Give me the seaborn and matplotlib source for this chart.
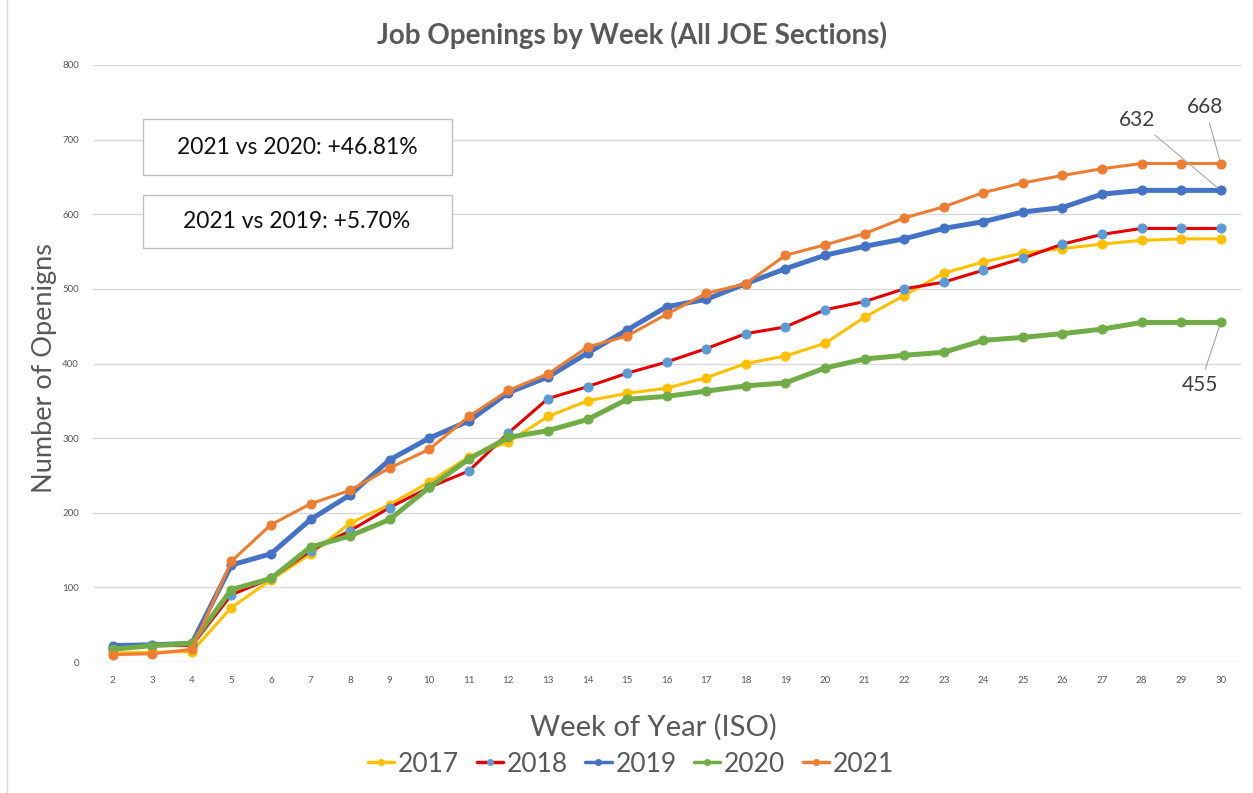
import matplotlib

matplotlib.use("Agg")
import matplotlib.pyplot as plt
import numpy as np
import pandas as pd
import seaborn as sns
from matplotlib.lines import Line2D
from matplotlib.patches import Rectangle

weeks = list(range(2, 31))

y2017 = [12, 13, 14, 73, 110, 145, 186, 211, 241, 275, 295, 329, 350, 360, 367,
         381, 400, 410, 427, 462, 491, 521, 536, 548, 554, 560, 565, 567, 567]
y2018 = [18, 22, 22, 90, 112, 149, 176, 207, 234, 256, 307, 353, 369, 387, 402,
         420, 440, 449, 472, 483, 500, 509, 525, 541, 560, 573, 581, 581, 581]
y2019 = [22, 23, 25, 130, 145, 191, 224, 271, 300, 323, 361, 382, 414, 445, 476,
         486, 507, 527, 545, 557, 567, 581, 590, 603, 609, 627, 632, 632, 632]
y2020 = [17, 22, 25, 97, 112, 154, 169, 191, 234, 272, 301, 310, 325, 352, 356,
         363, 370, 374, 394, 406, 411, 415, 431, 435, 440, 446, 455, 455, 455]
y2021 = [10, 11, 17, 135, 184, 212, 230, 260, 285, 329, 364, 386, 422, 437, 466,
         494, 507, 545, 559, 574, 595, 610, 629, 642, 652, 661, 668, 668, 668]

years = ["2017", "2018", "2019", "2020", "2021"]
series = [y2017, y2018, y2019, y2020, y2021]
line_colors = ["#FFC000", "#E60000", "#4472C4", "#70AD47", "#ED7D31"]
marker_colors = ["#FFC000", "#5B9BD5", "#4472C4", "#70AD47", "#ED7D31"]
line_widths = [2.2, 2.2, 3.6, 3.6, 2.2]

comparisons = ["2021 vs 2020: +46.81%", "2021 vs 2019: +5.70%"]

df = pd.DataFrame(
    {"week": weeks * len(years),
     "year": np.repeat(years, len(weeks)),
     "openings": sum(series, [])}
)

sns.set_theme(style="white")
plt.rcParams["font.family"] = ["Lato", "DejaVu Sans"]

W, H = 1253, 793
fig = plt.figure(figsize=(W / 100, H / 100), dpi=100)
ax = fig.add_axes([92.9 / W, 1 - 662 / H, (1240.5 - 92.9) / W, (662 - 65) / H])

grey = "#595959"
for yr, lc, mc, lw in zip(years, line_colors, marker_colors, line_widths):
    sub = df[df["year"] == yr]
    sns.lineplot(data=sub, x="week", y="openings", ax=ax, color=lc, lw=lw,
                 marker="o", markersize=6.5, markerfacecolor=mc,
                 markeredgecolor=mc, zorder=3, legend=False)

ax.set_xlim(1.5, 30.5)
ax.set_ylim(0, 800)
ax.set_xticks(weeks)
ax.set_yticks(range(0, 801, 100))
ax.tick_params(axis="both", labelsize=7, colors=grey, length=0, pad=10)
ax.grid(axis="y", color="#D9D9D9", lw=1)
ax.set_axisbelow(True)
for s in ax.spines.values():
    s.set_visible(False)
ax.set_xlabel("")
ax.set_ylabel("")

fig.text(653 / W, 1 - 727 / H, "Week of Year (ISO)", ha="center", va="center",
         fontsize=21, color=grey)
fig.text(45 / W, 1 - 368 / H, "Number of Openigns", ha="center", va="center",
         rotation=90, fontsize=19.5, color=grey)
fig.text(632 / W, 1 - 35 / H, "Job Openings by Week (All JOE Sections)",
         ha="center", va="center", fontsize=20, fontweight="bold", color=grey)

# comparison boxes
for txt, (top, bottom) in zip(comparisons, [(119, 175), (195, 248)]):
    fig.patches.append(Rectangle((143 / W, 1 - bottom / H), (452 - 143) / W,
                                 (bottom - top) / H, transform=fig.transFigure,
                                 facecolor="white", edgecolor="#BFBFBF", lw=1))
    fig.text(297 / W, 1 - (top + bottom) / 2 / H, txt, ha="center",
             va="center", fontsize=16.5, color="#111111")

# end labels
lab_kw = dict(textcoords="figure pixels", fontsize=15, color="#404040",
              ha="center", va="center",
              arrowprops=dict(arrowstyle="-", color="#A6A6A6", lw=0.8,
                              shrinkA=2, shrinkB=3))
ax.annotate(str(y2019[-1]), xy=(weeks[-1], y2019[-1]), xytext=(1137, H - 120),
            **lab_kw)
ax.annotate(str(y2021[-1]), xy=(weeks[-1], y2021[-1]), xytext=(1205, H - 107),
            **lab_kw)
ax.annotate(str(y2020[-1]), xy=(weeks[-1], y2020[-1]), xytext=(1200, H - 385),
            **lab_kw)

handles = [Line2D([0], [0], color=lc, lw=2.5, marker="o", markersize=4,
                  markerfacecolor=mc, markeredgecolor=mc)
           for lc, mc in zip(line_colors, marker_colors)]
leg = fig.legend(handles, years, loc="center", ncol=5, frameon=False,
                 bbox_to_anchor=(631 / W, 1 - 764 / H), fontsize=19,
                 handlelength=1.0, handletextpad=0.15, columnspacing=0.65)
for t in leg.get_texts():
    t.set_color(grey)

fig.add_artist(Line2D([7 / W, 7 / W], [0, 1], transform=fig.transFigure,
                      color="#D9D9D9", lw=1))

fig.savefig("out.png", dpi=100)
